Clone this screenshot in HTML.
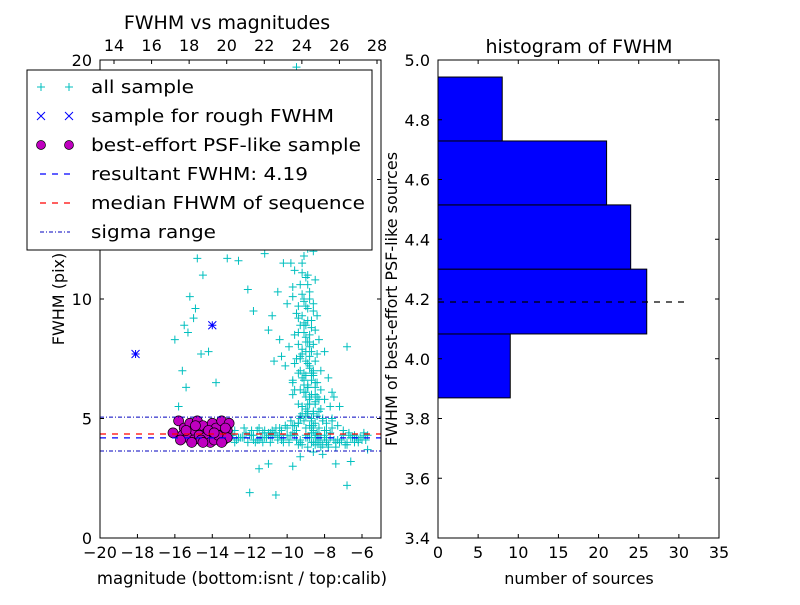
<!DOCTYPE html>
<html><head><meta charset="utf-8">
<style>
body{margin:0;background:#fff;font-family:"Liberation Sans","DejaVu Sans",sans-serif;}
svg text{font-family:"DejaVu Sans","Liberation Sans",sans-serif;}
</style></head>
<body>
<svg id="chart" width="800" height="600" viewBox="0 0 800 600"></svg>
<script>
// ---- left scatter data ----
const allX = [-9.5,-9.2,-8.9,-9.8,-8.5,-9.1,-9.4,-8.7,-9.0,-8.8,-9.3,-9.6,-8.6,-9.2,-8.9,-9.0,-8.4,-9.7,-9.1,-8.8,
 -9.5,-9.0,-8.7,-9.3,-8.9,-9.2,-8.6,-9.4,-9.0,-8.8,-9.1,-8.5,-9.6,-8.3,-9.2,-8.9,-9.0,-8.7,-9.4,-8.6,
 -9.1,-8.8,-9.3,-9.0,-8.5,-8.9,-9.2,-8.7,-9.5,-8.4,-9.0,-8.6,-8.8,-9.1,-8.2,-8.9,-9.3,-8.7,-9.0,-8.5,
 -10.2,-10.5,-10.0,-9.9,-10.8,-10.4,-11.2,-11.8,-12.1,-10.7,-11.0,-9.7,-10.3,-7.8,-7.5,-8.0,-7.2,-7.9,-6.8,-7.6,
 -13.0,-12.5,-12.0,-11.5,-11.0,-10.5,-10.0,-9.5,-9.0,-8.5,-8.0,-7.5,-7.0,-6.5,-6.0,-5.7,-12.8,-12.2,-11.7,-11.2,
 -10.8,-10.2,-9.7,-9.2,-8.7,-8.2,-7.7,-7.2,-6.7,-6.2,-5.9,-12.6,-11.9,-11.4,-10.9,-10.4,-9.9,-9.4,-8.9,-8.4,
 -7.9,-7.4,-6.9,-6.4,-6.1,-12.3,-11.6,-10.6,-9.6,-8.6,-7.6,-6.6,
 -15.2,-14.8,-15.0,-14.5,-15.6,-15.4,-14.2,-13.8,-15.3,-14.9,-15.5,-14.6,-13.2,-12.6,-15.8,-16.0,-14.0,-13.5,
 -11.0,-10.6,-9.7,-9.3,-8.1,-7.4,-6.8,-5.7,-6.6,-12.0,-11.5,-8.7,-9.5,
 -9.6,-9.4,-9.2,-9.0,-8.8,-8.6,-9.5,-9.3,-9.1,-8.9,-8.7,-8.5,-9.7,-9.4,-9.2,-9.0,-8.8,-8.6,-8.4,-9.6,
 -9.3,-9.1,-8.9,-8.7,-8.5,-8.3,-9.5,-9.2,-9.0,-8.8,-8.6,-8.4,-9.4,-9.1,-8.9,-8.7,-8.5,-8.2,-9.3,-9.0,
 -8.8,-8.6,-8.4,-8.1,-9.2,-8.9,-8.7,-8.5,-8.3,-8.0,-9.1,-8.8,-8.6,-8.4,-8.2,-7.9,-9.0,-8.7,-8.5,-8.3,
 -8.1,-7.8,-8.9,-8.6,-8.4,-8.2,-8.0,-7.7,-8.8,-8.5,-8.3,-8.1,-7.9,-7.6,-9.8,-9.6,-9.4,-9.9,-10.1,-9.7,
 -11.5,-11.2,-10.9,-10.6,-10.3,-10.0,-9.7,-9.4,-11.8,-11.4,-11.0,-10.7,-10.4,-10.1,-9.8,-7.6,-7.3,-7.0,-6.7,-6.4,
 -12.9,-12.7,-12.4,-12.1,-11.9,-11.6,-11.3,-11.1,-10.8,-10.5,-10.2,-9.9,-9.6,-9.3,-8.9,-8.6,-8.3,-8.0,-7.7,-7.4,
 -7.1,-6.8,-6.5,-6.2,-5.9,-12.8,-12.3,-11.8,-11.3,-10.8,-10.3,-9.8,-9.3,-8.8,-8.3,-7.8,-7.3,-6.8,-6.3,-5.8,
 -9.5,-9.2,-9.0,-8.7,-8.9,-9.3,-9.1,-8.8,-9.4,-8.6,-9.7,-9.0,-8.9,-9.2,-8.5,-9.3,-8.8,-9.1,-8.7,-9.0];
const allY = [14.5,13.2,12.1,11.5,10.8,9.9,9.2,8.8,8.4,8.0,7.6,7.3,7.0,6.7,6.4,6.1,5.9,10.5,11.8,12.8,
 15.5,16.2,14.0,12.5,11.0,10.2,9.5,8.6,7.8,7.2,6.9,6.5,6.2,5.8,5.5,5.3,5.1,4.9,4.8,4.7,
 9.0,8.2,7.5,6.8,6.0,5.6,5.2,4.6,4.5,4.4,13.8,12.0,10.0,8.9,7.0,6.3,5.0,4.4,4.3,3.9,
 11.5,10.3,9.8,12.7,9.3,8.3,11.9,9.5,10.4,7.4,8.7,6.5,7.6,6.7,5.9,7.8,5.5,4.5,8.0,6.1,
 4.3,4.2,4.3,4.1,4.4,4.2,4.3,4.1,4.2,4.3,4.2,4.1,4.3,4.2,4.1,4.3,4.5,4.4,4.0,4.2,
 4.5,4.0,4.4,3.9,4.0,3.8,4.4,4.0,4.3,4.1,4.4,4.2,4.5,4.2,4.0,4.3,4.1,3.9,3.8,4.0,
 4.0,3.8,3.9,4.0,4.2,4.6,4.5,4.6,4.7,3.6,4.9,4.2,
 10.1,11.7,9.2,11.0,7.0,6.3,7.8,6.5,8.6,9.6,8.9,7.7,11.7,11.6,5.5,8.3,12.4,12.2,
 3.1,1.8,3.0,3.4,3.5,3.1,2.2,3.7,3.2,1.9,2.9,19.0,19.7,
 8.5,8.1,7.7,7.4,7.1,6.8,9.4,8.9,8.6,8.2,7.8,7.4,10.1,9.7,9.3,8.9,8.5,8.1,7.7,11.2,
 10.6,10.0,9.6,9.1,8.7,8.3,12.3,11.5,10.9,10.3,9.8,9.3,6.9,6.6,6.3,6.0,5.7,5.4,6.2,5.9,
 5.6,5.3,5.1,4.9,5.5,5.2,5.0,4.8,4.6,4.5,4.9,4.7,4.5,4.3,4.2,4.1,4.6,4.4,4.2,4.0,
 3.9,3.8,7.3,6.9,6.5,6.2,5.8,5.5,5.9,5.6,5.3,5.0,4.8,4.6,13.2,14.2,15.0,8.0,7.2,6.6,
 4.6,4.5,4.4,4.4,4.5,4.6,4.7,4.8,4.3,4.2,4.3,4.4,4.6,4.7,4.9,5.0,4.7,4.5,4.4,4.3,
 4.3,4.1,4.2,4.0,4.3,4.1,4.4,4.2,4.3,4.1,4.2,4.0,4.3,4.1,4.2,4.0,4.1,4.3,4.2,4.0,
 4.1,3.9,4.2,4.0,4.3,4.0,4.2,4.1,4.0,4.2,4.1,4.3,4.0,4.2,4.1,3.9,4.1,4.0,4.2,4.1,
 7.5,7.9,8.2,6.6,9.1,7.0,6.4,7.6,5.6,5.2,6.0,9.7,10.6,11.1,6.3,5.1,5.8,6.1,6.9,5.4];
const roughX = [-18.1,-14.0];
const roughY = [7.7,8.9];
const bestX = [-15.8,-15.5,-15.2,-15.0,-14.8,-14.5,-14.3,-14.0,-13.8,-13.5,-13.2,-13.1,-15.6,-15.3,-15.0,-14.7,-14.4,-14.1,-13.9,-13.6,-13.4,-13.2,-15.4,-14.9,-14.6,-14.2,-13.7,-13.3,-16.1,-15.1,-14.5,-13.9,-13.5,-15.7];
const bestY = [4.9,4.6,4.8,4.5,4.9,4.7,4.4,4.8,4.6,4.9,4.5,4.8,4.3,4.2,4.1,4.3,4.2,4.0,4.1,4.3,4.1,4.2,4.5,4.7,4.1,4.5,4.3,4.6,4.4,4.0,4.0,4.4,4.0,4.1];
const hlineVals = [4.19, 4.35];
const sigmaVals = [3.64, 5.06];
const xTicks = [-20,-18,-16,-14,-12,-10,-8,-6];
const xTickLabels = ["\u221220","\u221218","\u221216","\u221214","\u221212","\u221210","\u22128","\u22126"];
const yTicks = [0,5,10,15,20];
const topTicks = [14,16,18,20,22,24,26,28];
// ---- histogram data ----
const binEdges = [3.869,4.083,4.30,4.515,4.729,4.943];
const binCounts = [9,26,24,21,8];
const histXTicks = [0,5,10,15,20,25,30,35];
const histYTicks = [3.4,3.6,3.8,4.0,4.2,4.4,4.6,4.8,5.0];
const fwhmVal = [4.19];
const fwhmLineLen = [31];

const NS="http://www.w3.org/2000/svg";
const svg=document.getElementById('chart');
function mk(tag,attrs,parent){const e=document.createElementNS(NS,tag);for(const k in attrs)e.setAttribute(k,attrs[k]);(parent||svg).appendChild(e);return e;}
function txt(s,x,y,size,anchor,parent){const t=mk('text',{x:x,y:y,'font-size':size,'text-anchor':anchor||'middle',fill:'#000'},parent);t.textContent=s;return t;}

const lx=v=>100+(v+20)*(262/14);
const ly=v=>538-v*(478/20);
const tx=v=>114+(v-14)*(263/14);

const scatterG=mk('g',{});


const clip=mk('clipPath',{id:'lc'});mk('rect',{x:100,y:60,width:281,height:478},clip);
const plotG=mk('g',{'clip-path':'url(#lc)'},scatterG);

for(let i=0;i<allX.length;i++){
  const x=lx(allX[i]),y=ly(allY[i]);
  const p=mk('path',{d:`M${x-4},${y}H${x+4}M${x},${y-4}V${y+4}`,stroke:'#00bfbf','stroke-width':1},plotG);
  
  
}
for(let i=0;i<roughX.length;i++){
  const x=lx(roughX[i]),y=ly(roughY[i]);
  const p=mk('path',{d:`M${x-4},${y-4}L${x+4},${y+4}M${x-4},${y+4}L${x+4},${y-4}M${x-4},${y}H${x+4}M${x},${y-4}V${y+4}`,stroke:'#0000ff','stroke-width':1},plotG);
  
  
}
for(let i=0;i<bestX.length;i++){
  const c=mk('circle',{cx:lx(bestX[i]),cy:ly(bestY[i]),r:5,fill:'#bf00bf',stroke:'#000','stroke-width':0.7},plotG);
  
  
}
const hb=mk('line',{x1:100,x2:381,y1:ly(hlineVals[0]),y2:ly(hlineVals[0]),stroke:'#0000ff','stroke-width':1.3,'stroke-dasharray':'6,6'},plotG);


const hr=mk('line',{x1:100,x2:381,y1:ly(hlineVals[1]),y2:ly(hlineVals[1]),stroke:'#ff0000','stroke-width':1.3,'stroke-dasharray':'6,6'},plotG);


for(const s of sigmaVals){
  const l=mk('line',{x1:100,x2:381,y1:ly(s),y2:ly(s),stroke:'#0000bf','stroke-width':1,'stroke-dasharray':'4,2,1,2'},plotG);
  
  
}
const lf=mk('rect',{x:100,y:60,width:281,height:478,fill:'none',stroke:'#000','stroke-width':1});


for(let i=0;i<xTicks.length;i++){
  const x=lx(xTicks[i]);
  mk('line',{x1:x,x2:x,y1:538,y2:534,stroke:'#000'});
  const t=txt(xTickLabels[i],x,558,16);
  
  
}
for(const v of yTicks){
  const y=ly(v);
  mk('line',{x1:100,x2:104,y1:y,y2:y,stroke:'#000'});
  mk('line',{x1:381,x2:377,y1:y,y2:y,stroke:'#000'});
  const t=txt(String(v),92,y+6,16,'end');
  
  
}
for(const v of topTicks){
  const x=tx(v);
  mk('line',{x1:x,x2:x,y1:60,y2:64,stroke:'#000'});
  const t=txt(String(v),x,51,16);
  
  
}
let t=txt('FWHM vs magnitudes',227,29,19);

t=txt('magnitude (bottom:isnt / top:calib)',242,584,16.5);

t=txt('FWHM (pix)',0,0,16);t.setAttribute('transform','translate(64,299) rotate(-90)');


const lg=mk('g',{});


mk('rect',{x:27,y:70,width:345,height:180,fill:'#fff',stroke:'#000','stroke-width':1},lg);
const labels=['all sample','sample for rough FWHM','best-effort PSF-like sample','resultant FWHM: 4.19','median FHWM of sequence','sigma range'];
for(let i=0;i<6;i++){
  const y=87+i*29;
  const e=mk('g',{},lg);
  
  
  if(i==0){for(const x of [41,69])mk('path',{d:`M${x-4},${y}H${x+4}M${x},${y-4}V${y+4}`,stroke:'#00bfbf'},e);}
  if(i==1){for(const x of [41,69])mk('path',{d:`M${x-4},${y-4}L${x+4},${y+4}M${x-4},${y+4}L${x+4},${y-4}`,stroke:'#0000ff'},e);}
  if(i==2){for(const x of [41,69])mk('circle',{cx:x,cy:y,r:4.5,fill:'#bf00bf',stroke:'#000','stroke-width':0.7},e);}
  if(i==3)mk('line',{x1:40,x2:70,y1:y,y2:y,stroke:'#0000ff','stroke-width':1.3,'stroke-dasharray':'6,6'},e);
  if(i==4)mk('line',{x1:40,x2:70,y1:y,y2:y,stroke:'#ff0000','stroke-width':1.3,'stroke-dasharray':'6,6'},e);
  if(i==5)mk('line',{x1:40,x2:70,y1:y,y2:y,stroke:'#0000bf','stroke-width':1,'stroke-dasharray':'4,2,1,2'},e);
  const tt=txt(labels[i],91,y+6,18,'start',e);
  tt.setAttribute('textLength', [103,243,270,217,274,125][i]);
  tt.setAttribute('lengthAdjust','spacingAndGlyphs');
}

const hx=v=>438+v*(281/35);
const hy=v=>538-(v-3.4)*(478/1.6);
const hg=mk('g',{});


for(let i=0;i<binCounts.length;i++){
  const b=mk('rect',{x:hx(0),y:hy(binEdges[i+1]),width:hx(binCounts[i])-hx(0),height:hy(binEdges[i])-hy(binEdges[i+1]),fill:'#0000ff',stroke:'#000','stroke-width':1},hg);
  
  
}
const fl=mk('line',{x1:hx(0),x2:hx(fwhmLineLen[0]),y1:hy(fwhmVal[0]),y2:hy(fwhmVal[0]),stroke:'#000','stroke-width':1.3,'stroke-dasharray':'6,6'},hg);


const rf=mk('rect',{x:438,y:60,width:281,height:478,fill:'none',stroke:'#000'});


for(const v of histXTicks){
  const x=hx(v);
  mk('line',{x1:x,x2:x,y1:538,y2:534,stroke:'#000'});
  mk('line',{x1:x,x2:x,y1:60,y2:64,stroke:'#000'});
  const t=txt(String(v),x,558,16);
  
  
}
for(const v of histYTicks){
  const y=hy(v);
  mk('line',{x1:438,x2:442,y1:y,y2:y,stroke:'#000'});
  mk('line',{x1:719,x2:715,y1:y,y2:y,stroke:'#000'});
  const t=txt(v.toFixed(1),430,y+6,16,'end');
  
  
}
t=txt('histogram of FWHM',579,53,19);

t=txt('number of sources',579,584,16);

t=txt('FWHM of best-effort PSF-like sources',0,0,16);t.setAttribute('transform','translate(397,299) rotate(-90)');

</script>
</body></html>
